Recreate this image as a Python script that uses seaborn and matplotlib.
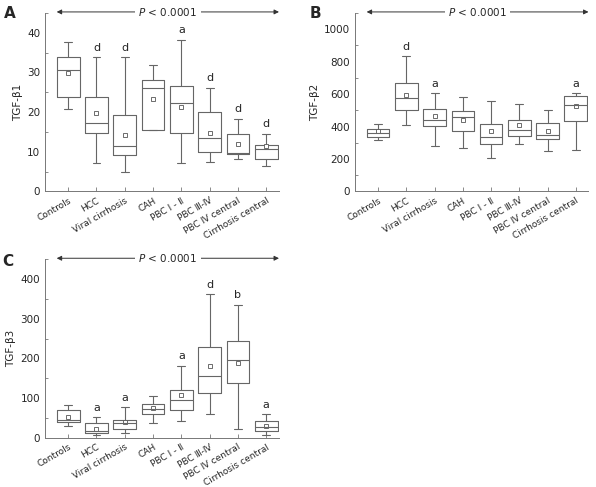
import numpy as np
import pandas as pd
import seaborn as sns
import matplotlib.pyplot as plt
from matplotlib.ticker import MultipleLocator

sns.set_style("white")
plt.rcParams['font.family'] = ['DejaVu Sans', 'Noto Sans CJK SC']
plt.rcParams['font.size'] = 7

groups = ['Controls', 'HCC', 'Viral cirrhosis', 'CAH', 'PBC \u2160 - \u2161',
          'PBC \u2162-\u2163', 'PBC \u2163 central', 'Cirrhosis central']

# TGF-beta1 (panel A): whisker low, Q1, median, Q3, whisker high, mean
b1_lo = [20.9, 7.2, 4.9, 15.4, 7.2, 7.5, 8.3, 6.4]
b1_q1 = [23.9, 14.8, 9.1, 15.6, 14.8, 9.9, 9.5, 8.3]
b1_med = [30.7, 17.3, 11.5, 26.2, 22.4, 13.5, 9.8, 10.6]
b1_q3 = [33.8, 23.7, 19.4, 28.1, 26.7, 20.1, 14.6, 11.8]
b1_hi = [37.7, 33.8, 33.8, 32.0, 38.3, 26.2, 18.4, 14.6]
b1_mean = [29.8, 19.7, 14.3, 23.2, 21.4, 14.8, 12.0, 11.5]
b1_sig = ['', 'd', 'd', '', 'a', 'd', 'd', 'd']

# TGF-beta2 (panel B)
b2_lo = [320, 412, 282, 266, 208, 295, 252, 258]
b2_q1 = [336, 501, 406, 373, 295, 342, 326, 433]
b2_med = [363, 579, 443, 458, 338, 377, 351, 536]
b2_q3 = [388, 666, 511, 493, 414, 439, 425, 588]
b2_hi = [418, 835, 604, 584, 557, 542, 501, 604]
b2_mean = [371, 596, 468, 439, 375, 412, 371, 528]
b2_sig = ['', 'd', 'a', '', '', '', '', 'a']

# TGF-beta3 (panel C)
b3_lo = [29, 7, 13, 36, 42, 61, 21, 7]
b3_q1 = [40, 13, 23, 61, 70, 112, 139, 18]
b3_med = [45, 18, 36, 72, 94, 155, 195, 28]
b3_q3 = [70, 38, 45, 84, 120, 229, 244, 43]
b3_hi = [82, 51, 77, 105, 182, 362, 336, 60]
b3_mean = [51, 22, 39, 74, 108, 180, 189, 30]
b3_sig = ['', 'a', 'a', '', 'a', 'd', 'b', 'a']

line_col = '#666666'


def panel(ax, lo, q1, med, q3, hi, mean, sig, ylabel, ymax, step, letter, lx, ly):
    # five values per group -> quartiles of them are exactly the box stats
    df = pd.DataFrame({
        'group': np.repeat(groups, 5),
        'value': np.column_stack([lo, q1, med, q3, hi]).ravel(),
    })
    sns.boxplot(data=df, x='group', y='value', order=groups, whis=(0, 100),
                width=0.8, fill=False, color=line_col, linewidth=0.8,
                showfliers=False, ax=ax)
    # narrower whisker caps
    for ln in ax.lines:
        xd = np.asarray(ln.get_xdata(), dtype=float)
        yd = np.asarray(ln.get_ydata(), dtype=float)
        if len(xd) == 2 and yd[0] == yd[1] and abs(abs(xd[1] - xd[0]) - 0.4) < 0.05:
            c = xd.mean()
            ln.set_xdata([c - 0.14, c + 0.14])
    x = np.arange(len(groups))
    ax.plot(x, mean, ls='none', marker='s', ms=2.2, mfc='white',
            mec='#555555', mew=0.6)
    for i, s in enumerate(sig):
        if s:
            ax.annotate(s, (i, hi[i]), xytext=(0, 3), textcoords='offset points',
                        ha='center', va='bottom', fontsize=8)

    ax.set_xlim(-0.82, 7.45)
    ax.set_ylim(0, ymax)
    ax.yaxis.set_major_locator(MultipleLocator(step))
    ax.yaxis.set_minor_locator(MultipleLocator(step / 2))
    ax.set_xlabel('')
    ax.set_ylabel(ylabel, fontsize=7.5, labelpad=3)
    ax.set_xticks(x)
    ax.set_xticklabels(groups, rotation=30, ha='right', rotation_mode='anchor',
                       fontsize=6.5)
    ax.tick_params(direction='in', length=3, width=0.6, color='#777777',
                   labelsize=7.5, pad=3.5)
    ax.tick_params(axis='y', which='minor', direction='in', length=2.5,
                   width=0.6, color='#777777', left=True)
    ax.tick_params(axis='x', bottom=True, labelsize=6.5)
    sns.despine(ax=ax)
    for sp in ['left', 'bottom']:
        ax.spines[sp].set_color('#777777')
        ax.spines[sp].set_linewidth(0.7)

    ax.annotate('', xy=(1.0, 1.006), xytext=(0.05, 1.006), xycoords='axes fraction',
                arrowprops=dict(arrowstyle='<|-|>', color='#333333', lw=0.7,
                                mutation_scale=7, shrinkA=0, shrinkB=0),
                annotation_clip=False)
    ax.text(0.525, 1.006, r'$P$ < 0.0001', transform=ax.transAxes, ha='center',
            va='center', fontsize=7.5,
            bbox=dict(fc='white', ec='none', pad=2.5))
    ax.figure.text(lx, ly, letter, fontsize=11, fontweight='bold',
                   ha='left', va='center')


fig = plt.figure(figsize=(5.96, 4.87), dpi=100)
ax_a = fig.add_axes([0.0755, 0.6068, 0.3926, 0.3665])
ax_b = fig.add_axes([0.5956, 0.6068, 0.3918, 0.3665])
ax_c = fig.add_axes([0.0755, 0.1012, 0.3926, 0.3663])

panel(ax_a, b1_lo, b1_q1, b1_med, b1_q3, b1_hi, b1_mean, b1_sig,
      'TGF-\u03b21', 45, 10, 'A', 0.006, 1 - 13 / 487)
panel(ax_b, b2_lo, b2_q1, b2_med, b2_q3, b2_hi, b2_mean, b2_sig,
      'TGF-\u03b22', 1100, 200, 'B', 0.519, 1 - 13 / 487)
panel(ax_c, b3_lo, b3_q1, b3_med, b3_q3, b3_hi, b3_mean, b3_sig,
      'TGF-\u03b23', 450, 100, 'C', 0.004, 1 - 262 / 487)

plt.savefig('out.png', dpi=100)
plt.close()
